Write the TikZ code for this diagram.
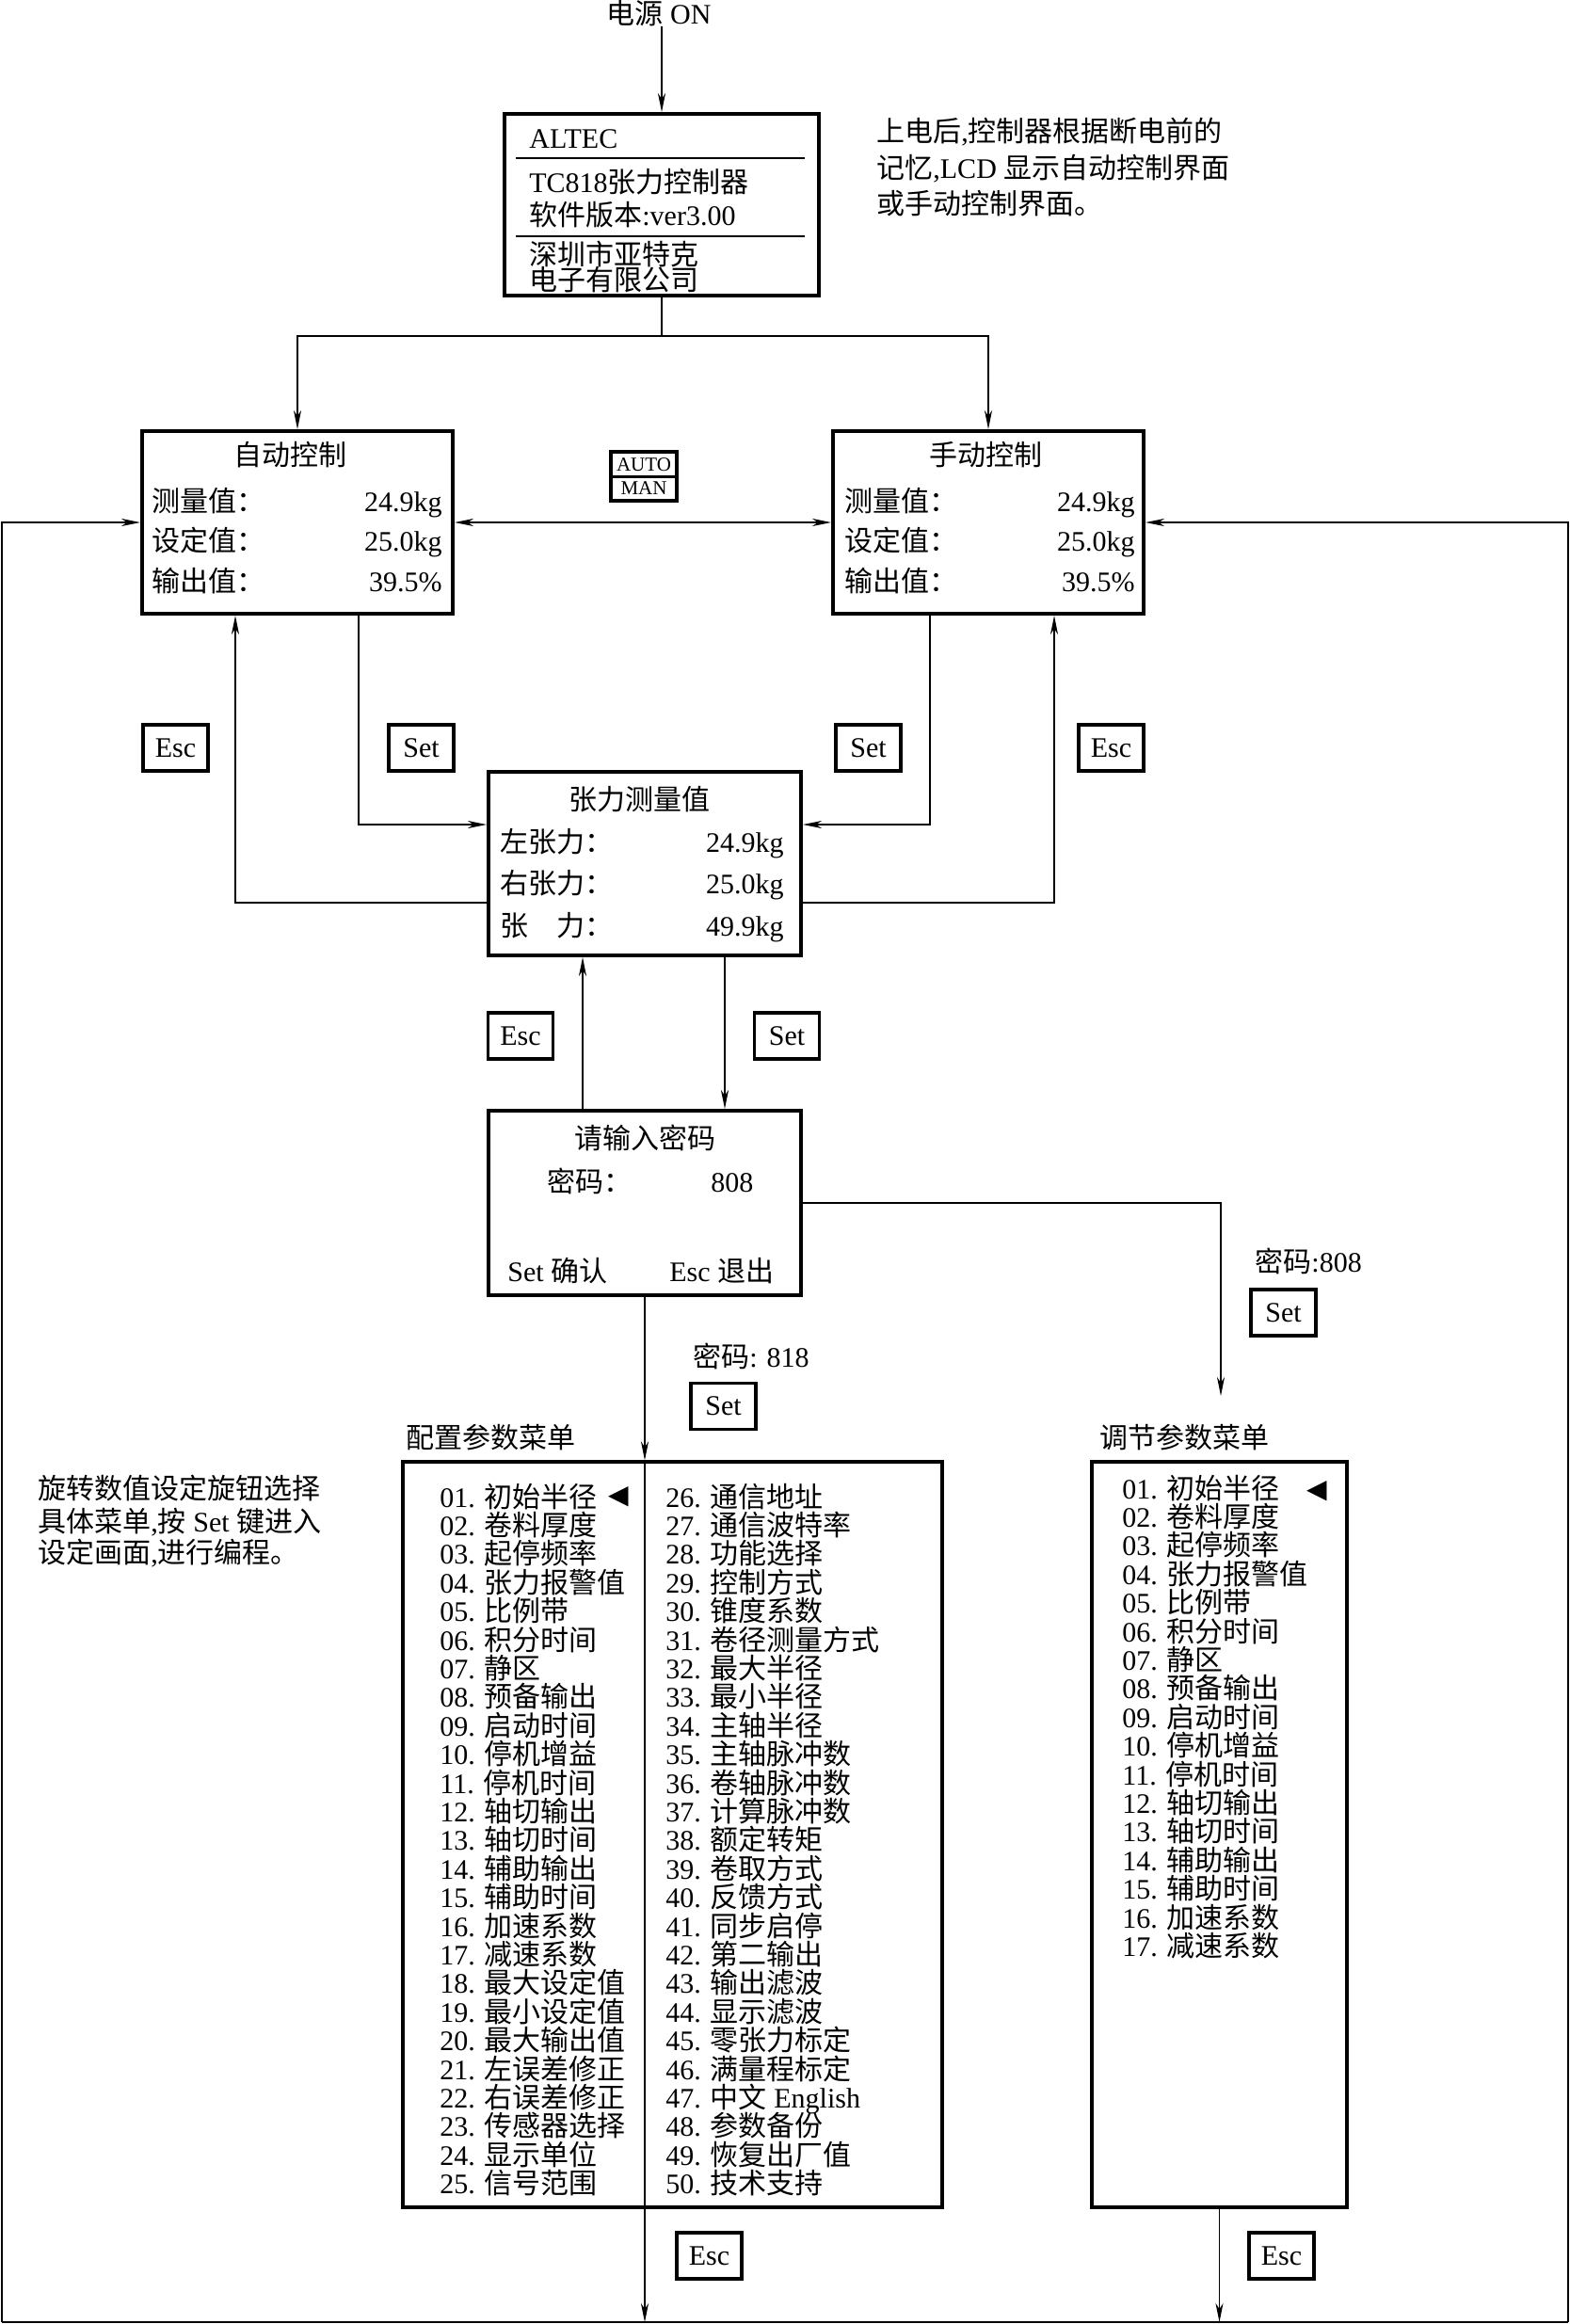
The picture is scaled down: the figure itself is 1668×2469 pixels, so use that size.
\documentclass[tikz,border=0pt]{standalone}
\usepackage{fontspec}
\setmainfont{Liberation Serif}
\newfontfamily\cjkfont{Noto Sans CJK SC}
\newfontfamily\symfont{DejaVu Sans}
\usetikzlibrary{arrows.meta,calc}
\XeTeXinterchartokenstate=1
\newXeTeXintercharclass\cjkclass
\newcount\cjkcnt
\def\setcjkrange#1#2{\cjkcnt=#1\relax\loop\XeTeXcharclass\cjkcnt=\cjkclass\relax\ifnum\cjkcnt<#2\relax\advance\cjkcnt by 1\repeat}
\setcjkrange{"3000}{"303F}
\setcjkrange{"4E00}{"9FFF}
\setcjkrange{"FF00}{"FFEF}
\XeTeXinterchartoks 0 \cjkclass = {\begingroup\cjkfont}
\XeTeXinterchartoks 4095 \cjkclass = {\begingroup\cjkfont}
\XeTeXinterchartoks \cjkclass 0 = {\endgroup}
\XeTeXinterchartoks \cjkclass 4095 = {\endgroup}
\tikzset{
  frame/.style={draw, line width=2pt, inner sep=0pt},
  keybox/.style={draw, line width=1.8pt, minimum width=34.5pt, minimum height=24.5pt, inner sep=0pt, font=\fontsize{15pt}{18pt}\selectfont},
  menubox/.style={draw, line width=1.6pt, inner sep=0pt},
  txt/.style={inner sep=0pt, font=\fontsize{15pt}{18pt}\selectfont},
  lt/.style={txt, anchor=base west},
  rt/.style={txt, anchor=base east},
  ct/.style={txt, anchor=base},
  arr/.style={line width=0.75pt, -{Stealth[length=10pt,width=4pt,inset=3pt]}},
  dbl/.style={line width=0.75pt, {Stealth[length=10pt,width=4pt,inset=3pt]}-{Stealth[length=10pt,width=4pt,inset=3pt]}},
  conn/.style={line width=0.75pt},
  sepline/.style={line width=1pt},
  tri/.style={inner sep=0pt, font=\symfont\fontsize{14pt}{15pt}\selectfont},
}
\begin{document}
\begin{tikzpicture}[x=0.5pt,y=-0.5pt]
\useasboundingbox (0,0) rectangle (1668,2469);

% power on
\node[ct] (power) at (700,25) {电源 ON};

% start box
\node[frame, minimum width=167pt, minimum height=96.5pt] (main) at (703,217.5) {};
\draw[sepline] (548,168) -- (855,168);
\draw[sepline] (548,251) -- (855,251);
\node[lt] (m1) at (562,157) {ALTEC};
\node[lt] (m2) at (562,204) {TC818张力控制器};
\node[lt] (m3) at (562,239) {软件版本:ver3.00};
\node[lt] (m4) at (562,281) {深圳市亚特克};
\node[lt] (m5) at (562,308) {电子有限公司};
\draw[arr] (main.north |- power.south) -- (main.north);

% note top right
\node[lt] (n1) at (931,150) {上电后,控制器根据断电前的};
\node[lt] (n2) at (931,189) {记忆,LCD 显示自动控制界面};
\node[lt] (n3) at (931,227) {或手动控制界面。};

% auto / manual
\node[frame, minimum width=165pt, minimum height=97pt] (auto) at (316,555) {};
\node[ct] (autoT) at (308,494) {自动控制};
\node[lt] (a1) at (161,543) {测量值：};
\node[lt] (a2) at (161,585) {设定值：};
\node[lt] (a3) at (161,628) {输出值：};
\node[rt] (a1v) at (470,543) {24.9kg};
\node[rt] (a2v) at (470,585) {25.0kg};
\node[rt] (a3v) at (470,628) {39.5\%};

\node[frame, minimum width=165pt, minimum height=97pt] (mann) at (1050,555) {};
\node[ct] (mannT) at (1047,494) {手动控制};
\node[lt] (b1) at (897,543) {测量值：};
\node[lt] (b2) at (897,585) {设定值：};
\node[lt] (b3) at (897,628) {输出值：};
\node[rt] (b1v) at (1206,543) {24.9kg};
\node[rt] (b2v) at (1206,585) {25.0kg};
\node[rt] (b3v) at (1206,628) {39.5\%};

\coordinate (jn) at (703,357);
\draw[conn] (main.south) -- (jn);
\draw[arr] (jn) -| (auto.north);
\draw[arr] (jn) -| (mann.north);

% AUTO/MAN key
\node[draw, line width=2pt, minimum width=35pt, minimum height=26pt, inner sep=0pt] (am) at (684,506) {};
\draw[line width=1.5pt] (am.west) -- (am.east);
\node[inner sep=0pt, font=\fontsize{10.5pt}{12pt}\selectfont] (autoL) at (684,494) {AUTO};
\node[inner sep=0pt, font=\fontsize{10.5pt}{12pt}\selectfont] (manL) at (684,519) {MAN};
\draw[dbl] (auto.east) -- (mann.west);

% outer loop
\coordinate (bl) at (2,2467);
\coordinate (br) at (1666,2467);
\draw[conn] (bl) -- (br);
\draw[arr] (bl) |- (auto.west);
\draw[arr] (br) |- (mann.east);

% tension box
\node[frame, minimum width=166pt, minimum height=97.5pt] (ten) at (685,917.5) {};
\node[ct] (tenT) at (679,860) {张力测量值};
\node[lt] (t1) at (531,905) {左张力：};
\node[lt] (t2) at (531,949) {右张力：};
\node[lt] (t3) at (531,994) {张　力：};
\node[rt] (t1v) at (833,905) {24.9kg};
\node[rt] (t2v) at (833,949) {25.0kg};
\node[rt] (t3v) at (833,994) {49.9kg};

\node[keybox] (escA) at (186.5,794.5) {Esc};
\node[keybox] (setA) at (447.5,794.5) {Set};
\node[keybox] (setM) at (922.5,794.5) {Set};
\node[keybox] (escM) at (1180.5,794.5) {Esc};

\draw[arr] (ten.west |- 0,959) -| (250,0 |- auto.south);
\draw[arr] (381,0 |- auto.south) |- (ten.west |- 0,876);
\draw[arr] (988,0 |- mann.south) |- (ten.east |- 0,876);
\draw[arr] (ten.east |- 0,959) -| (1120,0 |- mann.south);

% password box
\node[frame, minimum width=166pt, minimum height=98pt] (pwd) at (685,1278) {};
\node[ct] (pwdT) at (685,1220) {请输入密码};
\node[lt] (p1) at (581,1266) {密码：};
\node[lt] (p1v) at (755,1266) {808};
\node[lt] (p2) at (539,1361) {Set 确认};
\node[lt] (p3) at (711,1361) {Esc 退出};

\node[keybox] (escT) at (553,1100.5) {Esc};
\node[keybox] (setT) at (836,1100.5) {Set};
\draw[arr] (619,0 |- pwd.north) -- (619,0 |- ten.south);
\draw[arr] (770,0 |- ten.south) -- (770,0 |- pwd.north);

% to adjust menu
\coordinate (adjin) at (1297,1483);
\draw[arr] (pwd.east) -| (adjin);
\node[lt] (pw808) at (1333,1351) {密码:808};
\node[keybox] (set808) at (1363.5,1394.5) {Set};

% menus
\node[lt] (pw818) at (736,1452) {密码: 818};
\node[keybox] (set818) at (768.5,1494) {Set};
\node[lt] (cfgT) at (431,1538) {配置参数菜单};
\node[lt] (adjT) at (1168,1538) {调节参数菜单};
\node[menubox, minimum width=286.5pt, minimum height=396pt] (cfg) at (714.5,1949) {};
\node[menubox, minimum width=135.5pt, minimum height=396pt] (adj) at (1295.5,1949) {};

\draw[arr] (pwd.south) -- (pwd.south |- cfg.north);
\draw[conn] (pwd.south |- cfg.north) -- (pwd.south |- cfg.south);
\draw[arr] (pwd.south |- cfg.south) -- (pwd.south |- bl);
\draw[arr] (adj.south) -- (adj.south |- bl);

\foreach \t [count=\i] in {01. 初始半径,02. 卷料厚度,03. 起停频率,04. 张力报警值,05. 比例带,06. 积分时间,07. 静区,08. 预备输出,09. 启动时间,10. 停机增益,11. 停机时间,12. 轴切输出,13. 轴切时间,14. 辅助输出,15. 辅助时间,16. 加速系数,17. 减速系数,18. 最大设定值,19. 最小设定值,20. 最大输出值,21. 左误差修正,22. 右误差修正,23. 传感器选择,24. 显示单位,25. 信号范围}
  \node[lt] (cl\i) at (467,{1601+30.4*(\i-1)}) {\t};
\foreach \t [count=\i] in {26. 通信地址,27. 通信波特率,28. 功能选择,29. 控制方式,30. 锥度系数,31. 卷径测量方式,32. 最大半径,33. 最小半径,34. 主轴半径,35. 主轴脉冲数,36. 卷轴脉冲数,37. 计算脉冲数,38. 额定转矩,39. 卷取方式,40. 反馈方式,41. 同步启停,42. 第二输出,43. 输出滤波,44. 显示滤波,45. 零张力标定,46. 满量程标定,47. 中文 English,48. 参数备份,49. 恢复出厂值,50. 技术支持}
  \node[lt] (cr\i) at (707,{1601+30.4*(\i-1)}) {\t};
\foreach \t [count=\i] in {01. 初始半径,02. 卷料厚度,03. 起停频率,04. 张力报警值,05. 比例带,06. 积分时间,07. 静区,08. 预备输出,09. 启动时间,10. 停机增益,11. 停机时间,12. 轴切输出,13. 轴切时间,14. 辅助输出,15. 辅助时间,16. 加速系数,17. 减速系数}
  \node[lt] (ad\i) at (1192,{1592+30.4*(\i-1)}) {\t};
\node[tri] (triL) at (657,1590) {◀};
\node[tri] (triR) at (1399,1584) {◀};

\node[keybox] (escC) at (753.5,2396.5) {Esc};
\node[keybox] (escR) at (1361.5,2396.5) {Esc};

% note left
\node[lt] (q1) at (40,1592) {旋转数值设定旋钮选择};
\node[lt] (q2) at (40,1627) {具体菜单,按 Set 键进入};
\node[lt] (q3) at (40,1660) {设定画面,进行编程。};
\end{tikzpicture}
\end{document}
